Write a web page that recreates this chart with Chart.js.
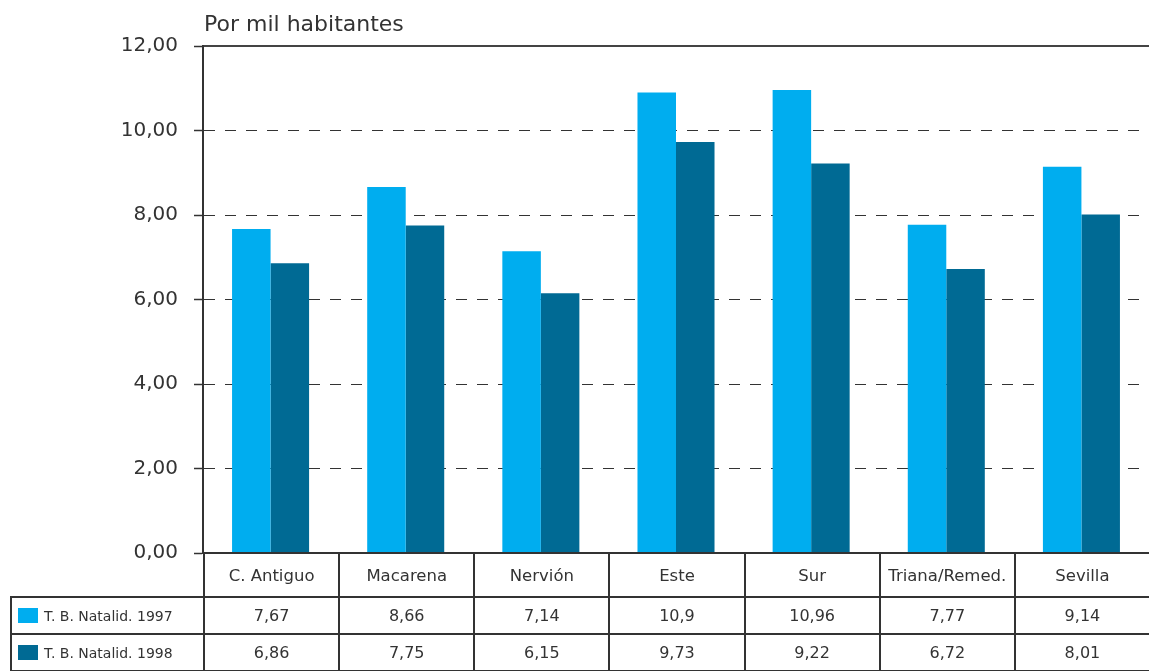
<!DOCTYPE html>
<html>
<head>
<meta charset="utf-8">
<script src="https://cdn.jsdelivr.net/npm/chart.js@4"></script>
<style>
  html, body { margin: 0; padding: 0; background: #fff; overflow: hidden; }
  #wrap { position: relative; width: 1149px; height: 671px; overflow: hidden; font-family: 'DejaVu Sans', sans-serif; color: #333; }
  #title { position: absolute; left: 204px; top: 11px; font-size: 22px; line-height: 26px; color: #333; }
  #chart { position: absolute; left: 0; top: 0; }
  #table { position: absolute; top: 552px; border-collapse: collapse; table-layout: fixed; }
  #table td { border: 2px solid #333; text-align: center; padding: 0; font-size: 16px; white-space: nowrap; overflow: hidden; }
  #table tr.head td { height: 42px; font-size: 16.5px; }
  #table tr.row td { height: 35px; }
  #table td.legend { text-align: left; font-size: 14px; }
  #table td.legend span.sw { display: inline-block; width: 20px; height: 15px; margin: 0 6px 0 6px; vertical-align: -2px; }
  #table td.blank { border-top: none; border-left: none; }
</style>
</head>
<body>
<div id="wrap">
  <canvas id="chart" width="1149" height="581"></canvas>
  <div id="title">Por mil habitantes</div>
  <table id="table"></table>
</div>
<script>
const categories = ['C. Antiguo', 'Macarena', 'Nervión', 'Este', 'Sur', 'Triana/Remed.', 'Sevilla'];
const natalidad1997 = [7.67, 8.66, 7.14, 10.9, 10.96, 7.77, 9.14];
const natalidad1998 = [6.86, 7.75, 6.15, 9.73, 9.22, 6.72, 8.01];
const seriesLabels = ['T. B. Natalid. 1997', 'T. B. Natalid. 1998'];
const seriesColors = ['#00adef', '#006a94'];
const yTicks = [0, 2, 4, 6, 8, 10, 12];

const fmt = v => String(v).replace('.', ',');

Chart.defaults.font.family = "'DejaVu Sans', sans-serif";
Chart.defaults.color = '#333';

const chart = new Chart(document.getElementById('chart').getContext('2d'), {
  type: 'bar',
  data: {
    labels: categories,
    datasets: [
      { label: seriesLabels[0], data: natalidad1997, backgroundColor: seriesColors[0], borderWidth: 0 },
      { label: seriesLabels[1], data: natalidad1998, backgroundColor: seriesColors[1], borderWidth: 0 },
    ],
  },
  options: {
    responsive: false,
    animation: false,
    layout: { padding: { top: 46, right: 0, bottom: 0, left: 0 } },
    datasets: { bar: { categoryPercentage: 0.57, barPercentage: 1 } },
    plugins: { legend: { display: false }, tooltip: { enabled: false } },
    scales: {
      x: {
        ticks: { display: false },
        grid: { display: false },
        border: { display: true, color: '#333', width: 2 },
        afterFit: s => { s.height = 3; },
      },
      x2: {
        position: 'top',
        labels: categories,
        ticks: { display: false },
        grid: { display: false },
        border: { display: true, color: '#444', width: 2 },
        afterFit: s => { s.height = 0; },
      },
      y: {
        min: 0,
        max: 12,
        afterBuildTicks: s => { s.ticks = yTicks.map(v => ({ value: v })); },
        ticks: {
          padding: 16,
          font: { size: 20 },
          color: '#333',
          callback: v => v.toFixed(2).replace('.', ','),
        },
        grid: {
          color: c => (c.tick && (c.tick.value === 12 || c.tick.value === 0)) ? 'rgba(0,0,0,0)' : '#333',
          lineWidth: 1,
          tickLength: 9,
          tickColor: '#333',
          tickWidth: 1.5,
        },
        border: { display: true, color: '#333', width: 2, dash: [11, 10] },
        afterFit: s => { s.width = 203; },
      },
    },
  },
});

// tabla de datos alineada con las categorías del eje x
const area = chart.chartArea;
const colW = (area.right - area.left) / categories.length;
const table = document.getElementById('table');
table.style.left = '10px';
table.style.top = (Math.round(area.bottom) - 1) + 'px';
const colgroup = document.createElement('colgroup');
const first = document.createElement('col');
first.style.width = (area.left - 10) + 'px';
colgroup.appendChild(first);
categories.forEach(() => {
  const c = document.createElement('col');
  c.style.width = colW + 'px';
  colgroup.appendChild(c);
});
table.appendChild(colgroup);
table.style.width = (area.left - 10 + colW * categories.length + 2) + 'px';

let html = '<tr class="head"><td class="blank"></td>' + categories.map(c => '<td>' + c + '</td>').join('') + '</tr>';
[natalidad1997, natalidad1998].forEach((serie, i) => {
  html += '<tr class="row"><td class="legend"><span class="sw" style="background:' + seriesColors[i] + '"></span>' + seriesLabels[i] + '</td>' +
    serie.map(v => '<td>' + fmt(v) + '</td>').join('') + '</tr>';
});
table.insertAdjacentHTML('beforeend', html);
</script>
</body>
</html>
